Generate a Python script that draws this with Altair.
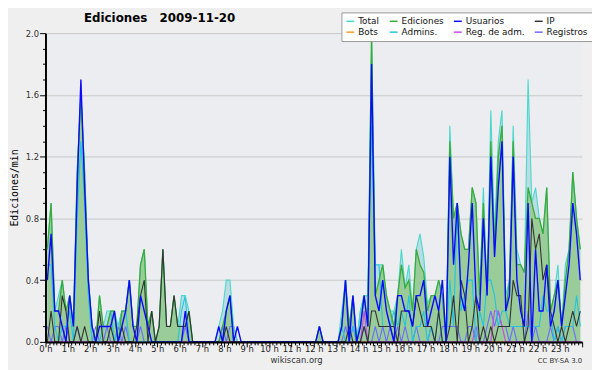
import altair as alt
import pandas as pd

SERIES = ["Total", "Ediciones", "Usuarios", "IP", "Bots", "Admins.", "Reg. de adm.", "Registros"]
COLORS = ["#48d8cc", "#3aaa3a", "#0a0aff", "#333333", "#ff9922", "#22c4e0", "#cc44ee", "#6b6bff"]

# 10-minute steps, 6 per hour (values in edits/min)
TOTAL = [
    0.6, 0.9, 0.2, 0.3, 0.4, 0.2,   0.3, 0.1, 1.1, 1.6, 1.1, 0.4,
    0.1, 0.0, 0.3, 0.1, 0.2, 0.2,   0.2, 0.1, 0.2, 0.2, 0.4, 0.1,
    0.1, 0.5, 0.6, 0.1, 0.2, 0.0,   0.1, 0.6, 0.1, 0.1, 0.3, 0.1,
    0.3, 0.3, 0.2, 0.0, 0.0, 0.0,   0.0, 0.0, 0.0, 0.0, 0.1, 0.2,
    0.4, 0.4, 0.1, 0.0, 0.0, 0.0,   0.0, 0.0, 0.0, 0.0, 0.0, 0.0,
    0.0, 0.0, 0.0, 0.0, 0.0, 0.0,   0.0, 0.0, 0.0, 0.0, 0.0, 0.0,
    0.0, 0.1, 0.0, 0.0, 0.0, 0.0,   0.0, 0.2, 0.4, 0.1, 0.3, 0.0,
    0.2, 0.3, 0.3, 2.0, 0.5, 0.5,   0.5, 0.3, 0.2, 0.2, 0.3, 0.6,
    0.35, 0.5, 0.2, 0.6, 0.7, 0.55, 0.25, 0.3, 0.3, 0.4, 0.3, 0.0,
    1.4, 0.8, 0.9, 0.7, 0.6, 0.6,   1.0, 0.9, 0.3, 1.0, 0.3, 1.5,
    0.7, 1.3, 1.5, 0.3, 0.4, 1.4,   0.6, 0.5, 0.45, 1.7, 0.9, 1.0,
    0.8, 0.7, 1.0, 0.2, 0.3, 0.5,   0.1, 0.5, 0.6, 1.1, 0.8, 0.6,
]
EDICIONES = [
    0.6, 0.9, 0.2, 0.2, 0.4, 0.2,   0.3, 0.1, 1.1, 1.6, 1.1, 0.4,
    0.1, 0.0, 0.3, 0.1, 0.1, 0.2,   0.2, 0.0, 0.2, 0.2, 0.4, 0.1,
    0.1, 0.5, 0.6, 0.1, 0.2, 0.0,   0.1, 0.6, 0.1, 0.1, 0.3, 0.1,
    0.1, 0.1, 0.2, 0.0, 0.0, 0.0,   0.0, 0.0, 0.0, 0.0, 0.0, 0.1,
    0.2, 0.3, 0.0, 0.0, 0.0, 0.0,   0.0, 0.0, 0.0, 0.0, 0.0, 0.0,
    0.0, 0.0, 0.0, 0.0, 0.0, 0.0,   0.0, 0.0, 0.0, 0.0, 0.0, 0.0,
    0.0, 0.1, 0.0, 0.0, 0.0, 0.0,   0.0, 0.1, 0.4, 0.1, 0.3, 0.0,
    0.1, 0.3, 0.1, 2.0, 0.3, 0.4,   0.5, 0.3, 0.2, 0.1, 0.3, 0.5,
    0.35, 0.4, 0.2, 0.6, 0.5, 0.45, 0.2, 0.3, 0.3, 0.4, 0.3, 0.0,
    1.3, 0.8, 0.9, 0.7, 0.6, 0.6,   1.0, 0.9, 0.3, 0.9, 0.3, 1.3,
    0.6, 1.2, 1.4, 0.2, 0.4, 1.3,   0.5, 0.5, 0.45, 1.0, 0.9, 0.8,
    0.8, 0.7, 1.0, 0.2, 0.3, 0.4,   0.1, 0.4, 0.6, 1.1, 0.8, 0.6,
]
USUARIOS = [
    0.4, 0.7, 0.2, 0.2, 0.1, 0.0,   0.3, 0.1, 1.0, 1.7, 1.0, 0.4,
    0.1, 0.0, 0.1, 0.1, 0.1, 0.1,   0.2, 0.0, 0.1, 0.2, 0.4, 0.1,
    0.0, 0.3, 0.2, 0.1, 0.0, 0.0,   0.0, 0.0, 0.0, 0.0, 0.0, 0.0,
    0.0, 0.2, 0.0, 0.0, 0.0, 0.0,   0.0, 0.0, 0.0, 0.0, 0.1, 0.0,
    0.2, 0.3, 0.0, 0.1, 0.0, 0.0,   0.0, 0.0, 0.0, 0.0, 0.0, 0.0,
    0.0, 0.0, 0.0, 0.0, 0.0, 0.0,   0.0, 0.0, 0.0, 0.0, 0.0, 0.0,
    0.0, 0.1, 0.0, 0.0, 0.0, 0.0,   0.0, 0.1, 0.4, 0.0, 0.3, 0.0,
    0.1, 0.3, 0.1, 1.8, 0.3, 0.2,   0.4, 0.2, 0.1, 0.0, 0.3, 0.3,
    0.2, 0.2, 0.1, 0.3, 0.3, 0.4,   0.1, 0.2, 0.3, 0.2, 0.4, 0.0,
    1.2, 0.5, 0.9, 0.3, 0.2, 0.5,   0.9, 0.3, 0.2, 0.8, 0.3, 1.2,
    0.55, 1.0, 1.3, 0.2, 0.3, 1.2,  0.4, 0.2, 0.1, 0.9, 0.0, 0.6,
    0.2, 0.2, 0.5, 0.1, 0.2, 0.4,   0.1, 0.3, 0.5, 0.9, 0.7, 0.4,
]
IP = [
    0.0, 0.2, 0.0, 0.0, 0.3, 0.2,   0.0, 0.0, 0.1, 0.0, 0.1, 0.0,
    0.0, 0.0, 0.2, 0.0, 0.0, 0.1,   0.0, 0.0, 0.1, 0.0, 0.0, 0.0,
    0.1, 0.3, 0.4, 0.0, 0.2, 0.0,   0.1, 0.6, 0.1, 0.1, 0.3, 0.1,
    0.1, 0.1, 0.2, 0.0, 0.0, 0.0,   0.0, 0.0, 0.0, 0.0, 0.0, 0.0,
    0.1, 0.0, 0.0, 0.0, 0.0, 0.0,   0.0, 0.0, 0.0, 0.0, 0.0, 0.0,
    0.0, 0.0, 0.0, 0.0, 0.0, 0.0,   0.0, 0.0, 0.0, 0.0, 0.0, 0.0,
    0.0, 0.0, 0.0, 0.0, 0.0, 0.0,   0.0, 0.0, 0.0, 0.1, 0.0, 0.0,
    0.0, 0.1, 0.0, 0.2, 0.2, 0.1,   0.1, 0.1, 0.1, 0.1, 0.0, 0.2,
    0.2, 0.2, 0.1, 0.3, 0.2, 0.1,   0.1, 0.1, 0.0, 0.2, 0.0, 0.0,
    0.1, 0.3, 0.0, 0.4, 0.3, 0.0,   0.1, 0.3, 0.0, 0.1, 0.0, 0.1,
    0.0, 0.1, 0.1, 0.1, 0.1, 0.4,   0.3, 0.3, 0.0, 0.1, 0.8, 0.6,
    0.7, 0.4, 0.5, 0.2, 0.1, 0.0,   0.1, 0.0, 0.1, 0.2, 0.1, 0.2,
]
BOTS = [0.0] * 144
ADMINS = [
    0.5, 0.5, 0.1, 0.0, 0.1, 0.1,   0.2, 0.0, 0.8, 1.3, 0.9, 0.3,
    0.0, 0.0, 0.0, 0.1, 0.1, 0.2,   0.0, 0.1, 0.2, 0.2, 0.0, 0.0,
    0.0, 0.0, 0.0, 0.0, 0.0, 0.0,   0.0, 0.0, 0.0, 0.0, 0.0, 0.0,
    0.2, 0.3, 0.0, 0.0, 0.0, 0.0,   0.0, 0.0, 0.0, 0.0, 0.0, 0.0,
    0.2, 0.3, 0.0, 0.0, 0.0, 0.0,   0.0, 0.0, 0.0, 0.0, 0.0, 0.0,
    0.0, 0.0, 0.0, 0.0, 0.0, 0.0,   0.0, 0.0, 0.0, 0.0, 0.0, 0.0,
    0.0, 0.0, 0.0, 0.0, 0.0, 0.0,   0.0, 0.1, 0.0, 0.0, 0.1, 0.0,
    0.2, 0.3, 0.3, 1.4, 0.5, 0.5,   0.1, 0.1, 0.1, 0.2, 0.1, 0.2,
    0.1, 0.3, 0.0, 0.1, 0.1, 0.2,   0.0, 0.1, 0.0, 0.2, 0.0, 0.0,
    0.4, 0.1, 0.9, 0.2, 0.3, 0.4,   0.4, 0.0, 0.2, 0.1, 0.4, 0.4,
    0.3, 0.1, 0.2, 0.2, 0.1, 0.1,   0.1, 0.1, 0.1, 0.1, 0.1, 0.1,
    0.1, 0.3, 0.2, 0.2, 0.0, 0.1,   0.0, 0.1, 0.1, 0.1, 0.3, 0.1,
]
REG_ADM = [0.0] * 85 + [0.2] + [0.0] * 29 + [0.1] + [0.0] * 4 + [0.2, 0.2, 0.1] + [0.0] * 21
REGISTROS = [
    0.1, 0.0, 0.1, 0.1, 0.0, 0.1,   0.0, 0.0, 0.1, 0.0, 0.0, 0.0,
    0.0, 0.1, 0.0, 0.0, 0.1, 0.0,   0.0, 0.1, 0.0, 0.1, 0.0, 0.0,
    0.0, 0.1, 0.0, 0.0, 0.0, 0.0,   0.0, 0.0, 0.0, 0.0, 0.0, 0.0,
    0.0, 0.1, 0.0, 0.0, 0.0, 0.0,   0.0, 0.0, 0.0, 0.0, 0.0, 0.1,
    0.0, 0.1, 0.1, 0.0, 0.0, 0.0,   0.0, 0.0, 0.0, 0.0, 0.0, 0.0,
    0.0, 0.0, 0.0, 0.0, 0.0, 0.0,   0.0, 0.0, 0.0, 0.0, 0.0, 0.0,
    0.0, 0.0, 0.0, 0.0, 0.0, 0.0,   0.0, 0.0, 0.1, 0.0, 0.1, 0.0,
    0.0, 0.1, 0.0, 0.0, 0.1, 0.0,   0.1, 0.0, 0.1, 0.0, 0.1, 0.0,
    0.1, 0.0, 0.0, 0.1, 0.0, 0.0,   0.0, 0.1, 0.0, 0.0, 0.1, 0.1,
    0.1, 0.1, 0.1, 0.0, 0.0, 0.1,   0.1, 0.0, 0.0, 0.0, 0.1, 0.2,
    0.1, 0.2, 0.1, 0.1, 0.0, 0.1,   0.0, 0.0, 0.0, 0.2, 0.0, 0.1,
    0.0, 0.0, 0.0, 0.1, 0.0, 0.1,   0.0, 0.1, 0.1, 0.1, 0.0, 0.0,
]

VALUES = {
    "Total": TOTAL, "Ediciones": EDICIONES, "Usuarios": USUARIOS, "IP": IP,
    "Bots": BOTS, "Admins.": ADMINS, "Reg. de adm.": REG_ADM, "Registros": REGISTROS,
}

rows = []
for name, vals in VALUES.items():
    for i, v in enumerate(vals):
        rows.append({"series": name, "hour": (i + 0.5) / 6.0, "value": v})
df = pd.DataFrame(rows)

FONT = "DejaVu Sans"

x_axis = alt.Axis(
    values=[k / 6.0 for k in range(145)],
    labelExpr="abs(datum.value - round(datum.value)) < 0.01 && datum.value < 23.5 ? format(round(datum.value), 'd') + ' h' : ''",
    tickSize={"condition": {"test": "abs(datum.value - round(datum.value)) < 0.01", "value": 5}, "value": 3},
    tickColor="black", tickWidth=1,
    domainColor="black", domainWidth=2,
    labelFont=FONT, labelFontSize=8.5, labelColor="#222", labelPadding=-2,
    labelOverlap=False, labelFlush=False, grid=False, zindex=1,
    title="wikiscan.org", titleFont=FONT, titleFontSize=8.5, titleFontWeight="normal",
    titleColor="#333", titleX=254, titleY=21, titleBaseline="alphabetic", titleAlign="center",
)
y_axis = alt.Axis(
    values=[k / 10.0 for k in range(21)],
    labelExpr="round(datum.value * 10) % 4 == 0 ? format(datum.value, '.1f') : ''",
    tickSize={"condition": {"test": "round(datum.value * 10) % 4 == 0", "value": 6}, "value": 3},
    tickColor="black", tickWidth=1,
    domainColor="black", domainWidth=2,
    grid=True, gridColor="#c8c8c8", gridWidth=1,
    gridOpacity={"condition": {"test": "round(datum.value * 10) % 4 == 0", "value": 1}, "value": 0},
    labelFont=FONT, labelFontSize=8.5, labelColor="#333", labelPadding=1,
    labelOverlap=False, labelFlush=False,
    title="Ediciones/min", titleFont="DejaVu Sans Mono", titleFontSize=10,
    titleFontWeight="normal", titleColor="black", titlePadding=6,
)

X = alt.X("hour:Q", scale=alt.Scale(domain=[0, 24], nice=False, zero=False), axis=x_axis)

def Y(axis):
    return alt.Y("value:Q", scale=alt.Scale(domain=[0, 2], nice=False, clamp=True), axis=axis)

legend = alt.Legend(
    title=None, orient="none", legendX=300, legendY=-21, columns=4, direction="horizontal",
    symbolType="stroke", symbolSize=64, symbolStrokeWidth=1.5,
    labelFont=FONT, labelFontSize=9, labelColor="#111", labelOffset=3,
    columnPadding=7, rowPadding=1, padding=4,
    fillColor="white", strokeColor="#999",
)
COLOR = alt.Color("series:N", scale=alt.Scale(domain=SERIES, range=COLORS), legend=legend)

base = alt.Chart(df)

total_area = base.transform_filter(alt.datum.series == "Total").mark_area(
    color="#bcdce4", opacity=1, interpolate="linear"
).encode(x=X, y=Y(y_axis))

ed_area = base.transform_filter(alt.datum.series == "Ediciones").mark_area(
    color="#99cc99", opacity=1, interpolate="linear"
).encode(x=X, y=Y(y_axis))

order = [("Bots", 1.0), ("Registros", 1.1), ("Reg. de adm.", 1.1), ("Admins.", 1.1),
         ("Total", 1.1), ("Ediciones", 1.3), ("IP", 1.1), ("Usuarios", 1.4)]
lines = [
    base.transform_filter(alt.datum.series == s).mark_line(strokeWidth=w, interpolate="linear")
    .encode(x=X, y=Y(y_axis), color=COLOR)
    for s, w in order
]

cc = alt.Chart(pd.DataFrame({"t": ["CC BY-SA 3.0"]})).mark_text(
    font=FONT, fontSize=7, color="#333", align="right", baseline="alphabetic"
).encode(text="t:N", x=alt.value(544), y=alt.value(334))

chart = alt.layer(total_area, ed_area, *lines, cc).properties(
    width=544, height=313,
    title=alt.TitleParams("Ediciones\u00a0\u00a0 2009-11-20", anchor="start", frame="group",
                          dx=39, dy=32, offset=10,
                          baseline="alphabetic", font=FONT, fontSize=12, fontWeight="bold",
                          color="black"),
    padding={"left": 38, "top": 23, "right": 10, "bottom": 26},
    autosize=alt.AutoSizeParams(type="none"),
    background="#efefef",
).configure_view(fill="#ecedf0", stroke=None)

chart.save("out.html", embed_options={"renderer": "svg", "actions": False})
